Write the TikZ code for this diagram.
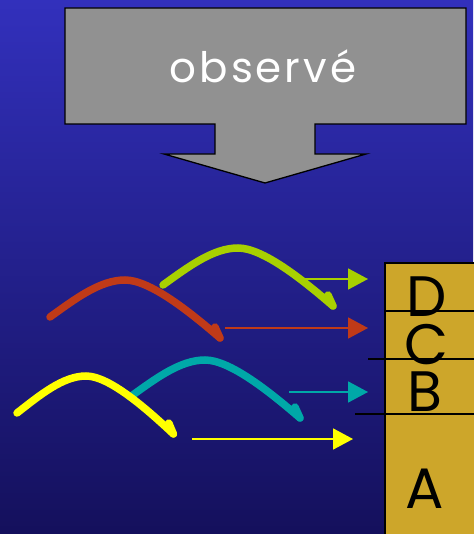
\documentclass[tikz,border=0pt]{standalone}
\usepackage{fontspec}
\setmainfont{Poppins}
\usetikzlibrary{arrows.meta}
\definecolor{bgtop}{RGB}{50,48,188}
\definecolor{bgbot}{RGB}{20,16,92}
\definecolor{grayarrow}{RGB}{145,145,145}
\definecolor{gold}{RGB}{205,166,42}
\definecolor{cyellow}{RGB}{255,255,0}
\definecolor{ccyan}{RGB}{0,168,168}
\definecolor{cred}{RGB}{192,58,24}
\definecolor{cgreen}{RGB}{168,208,0}
\tikzset{
  bumpline/.style={line width=7.5pt, line cap=round},
  flatarrow/.style={line width=1.8pt, -{Triangle[length=20pt,width=21pt]}},
  letter/.style={font=\fontsize{57}{57}\selectfont, inner sep=0pt, text=black},
}
\newcommand{\mybump}[4]{% color, x, y, xscale
  \begin{scope}[shift={(#2,#3)}, xscale=#4]
    \draw[bumpline, #1] (0,0) .. controls (25,-18) and (50,-37) .. (75,-37)
       .. controls (100,-37) and (140,-5) .. (170,21);
    \draw[bumpline, #1] (170,21) -- (165,10);
  \end{scope}}
\begin{document}
\begin{tikzpicture}[x=1pt,y=-1pt]
  \shade[top color=bgtop, bottom color=bgbot] (0,0) rectangle (473,534);
  \useasboundingbox (0,0) rectangle (473,534);
  % gray arrow
  \draw[fill=grayarrow, line width=1.3pt, line join=miter]
    (65,8) -- (466,8) -- (466,124) -- (315,124) -- (315,154) -- (366,154)
    -- (265,183) -- (164,154) -- (215,154) -- (215,124) -- (65,124) -- cycle;
  \node[text=white, anchor=base, inner sep=0pt,
        font=\fontsize{42}{42}\selectfont\addfontfeature{LetterSpace=7}] (obs) at (263,83) {observé};
  % gold stack
  \draw[fill=gold, line width=1.2pt] (385,263) rectangle (476,537);
  \draw[line width=1.2pt] (385,311) -- (476,311);
  \draw[line width=1.2pt] (368,359) -- (476,359);
  \draw[line width=1.2pt] (355,414) -- (476,414);
  \node[letter] (D) at (427,297) {D};
  \node[letter] (C) at (426,345) {C};
  \node[letter] (B) at (425,392) {B};
  \node[letter] (A) at (425,489) {A};
  % bumps
  \mybump{cgreen}{163}{285}{1.0}
  \mybump{cred}{50}{317}{1.0}
  \mybump{ccyan}{130}{397}{1.0}
  \mybump{cyellow}{17}{413}{0.92}
  % horizontal arrows
  \coordinate (g0) at (305,279); \coordinate (g1) at (368,279);
  \coordinate (r0) at (225,328); \coordinate (r1) at (368,328);
  \coordinate (c0) at (289,392); \coordinate (c1) at (368,392);
  \coordinate (y0) at (192,439); \coordinate (y1) at (353,439);
  \draw[flatarrow, cgreen] (g0) -- (g1);
  \draw[flatarrow, cred] (r0) -- (r1);
  \draw[flatarrow, ccyan] (c0) -- (c1);
  \draw[flatarrow, cyellow] (y0) -- (y1);
\end{tikzpicture}
\end{document}
